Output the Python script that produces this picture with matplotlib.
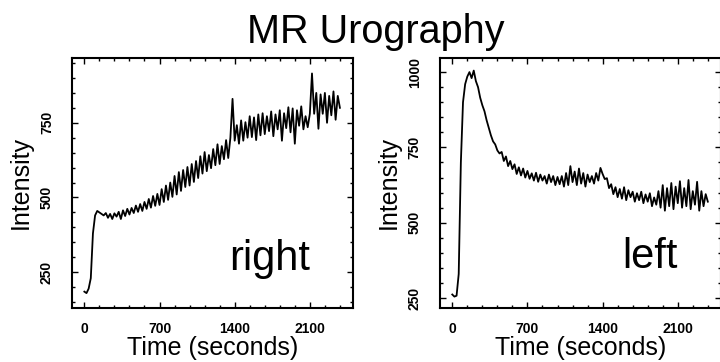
import matplotlib.pyplot as plt
import numpy as np
from matplotlib.ticker import MultipleLocator

plt.rcParams['font.family'] = ['Liberation Sans', 'DejaVu Sans']

# sample times (seconds), every 20 s
time = list(range(0, 2400, 20))

# right kidney signal
right_kidney = [185, 180, 195, 230, 380, 440, 455, 450, 445, 440,
                448, 432, 445, 428, 447, 436, 452, 428, 457, 438,
                462, 443, 465, 448, 473, 452, 478, 455, 485, 462,
                495, 466, 505, 472, 512, 475, 528, 485, 540, 492,
                550, 502, 572, 510, 585, 522, 592, 535, 602, 540,
                612, 552, 622, 565, 638, 580, 652, 588, 642, 598,
                662, 608, 678, 612, 672, 628, 692, 632, 700, 830,
                690, 742, 680, 758, 690, 752, 700, 772, 702, 768,
                692, 778, 708, 782, 712, 772, 722, 788, 705, 778,
                728, 792, 690, 782, 732, 802, 718, 798, 680, 792,
                740, 805, 728, 772, 735, 780, 915, 780, 850, 730,
                845, 780, 850, 750, 840, 775, 855, 760, 840, 800]

# left kidney signal
left_kidney = [262, 255, 258, 330, 700, 900, 960, 985, 1000, 980,
               1005, 970, 950, 915, 890, 870, 840, 815, 790, 770,
               760, 740, 730, 735, 705, 720, 688, 705, 678, 694,
               662, 684, 657, 680, 650, 672, 646, 664, 640, 666,
               636, 660, 640, 655, 630, 660, 635, 655, 625, 652,
               628, 655, 620, 665, 625, 688, 635, 670, 625, 680,
               630, 665, 620, 660, 635, 655, 630, 665, 640, 682,
               662, 645, 648, 615, 628, 595, 618, 585, 612, 580,
               618, 575, 608, 585, 603, 570, 598, 575, 603, 565,
               594, 570, 598, 555, 584, 560, 605, 550, 625, 540,
               615, 555, 632, 545, 620, 565, 638, 550, 615, 555,
               642, 545, 605, 560, 636, 540, 605, 555, 595, 570]

x_ticks = [0, 700, 1400, 2100]

fig = plt.figure(figsize=(7.2, 3.62), dpi=100)
fig.text(0.522, 0.881, "MR Urography", fontsize=28.5, ha="center", va="baseline")

ax1 = fig.add_axes([0.1, 0.149, 0.39, 0.691])
ax2 = fig.add_axes([0.611, 0.149, 0.39, 0.691])

panels = [(ax1, right_kidney, "right", (130, 967), [250, 500, 750], 0.705, 0.152),
          (ax2, left_kidney, "left", (217, 1047), [250, 500, 750, 1000], 0.747, 0.16)]

for ax, vals, name, ylim, yt, tx, ty in panels:
    ax.plot(time, vals, color="black", lw=1.3)
    ax.set_xlim(-115, 2500)
    ax.set_ylim(*ylim)
    ax.set_xticks(x_ticks)
    ax.set_yticks(yt)
    ax.xaxis.set_minor_locator(MultipleLocator(140))
    ax.yaxis.set_minor_locator(MultipleLocator(50))
    ax.tick_params(which="both", direction="in", top=True, right=True, width=1)
    ax.tick_params(which="major", length=4)
    ax.tick_params(which="minor", length=2)
    ax.tick_params(axis="x", pad=10)
    ax.tick_params(axis="y", pad=13)
    for lab in ax.get_xticklabels():
        lab.set_fontsize(10)
        lab.set_fontweight("bold")
    for lab in ax.get_yticklabels():
        lab.set_fontsize(10)
        lab.set_fontweight("bold")
        lab.set_rotation(90)
        lab.set_va("center")
    for s in ax.spines.values():
        s.set_linewidth(1.5)
    ax.set_xlabel("Time (seconds)", fontsize=18, labelpad=0)
    ax.set_ylabel("Intensity", fontsize=18, labelpad=5)
    ax.text(tx, ty, name, transform=ax.transAxes, fontsize=30,
            ha="center", va="baseline")

fig.savefig("out.png", dpi=100)
